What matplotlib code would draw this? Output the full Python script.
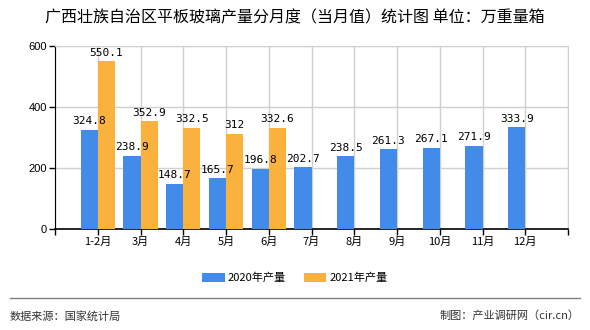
import numpy as np
import matplotlib.pyplot as plt

plt.rcParams['font.family'] = ['Noto Sans CJK SC', 'DejaVu Sans']

months = ['1-2月', '3月', '4月', '5月', '6月', '7月', '8月', '9月', '10月', '11月', '12月']
prod_2020 = [324.8, 238.9, 148.7, 165.7, 196.8, 202.7, 238.5, 261.3, 267.1, 271.9, 333.9]
prod_2021 = [550.1, 352.9, 332.5, 312, 332.6]
labels_2020 = ['324.8', '238.9', '148.7', '165.7', '196.8', '202.7', '238.5', '261.3', '267.1', '271.9', '333.9']
labels_2021 = ['550.1', '352.9', '332.5', '312', '332.6']

blue = '#428BEB'
orange = '#FBB13E'

fig = plt.figure(figsize=(5.9, 3.3), dpi=100)
ax = fig.add_axes([55 / 590, 1 - 229 / 330, 513 / 590, 183 / 330])

x = np.arange(1, len(months) + 1)
x21 = x[:len(prod_2021)]
w = 0.4
b1 = ax.bar(x - w / 2, prod_2020, w, color=blue, label='2020年产量', zorder=3)
b2 = ax.bar(x21 + w / 2, prod_2021, w, color=orange, label='2021年产量', zorder=3)

mono = ['DejaVu Sans Mono']
for xi, v, s in zip(x, prod_2020, labels_2020):
    ax.text(xi - w / 2, v + 12, s, ha='center', va='bottom', fontsize=8, family=mono, zorder=4)
for xi, v, s in zip(x21, prod_2021, labels_2021):
    ax.text(xi + w / 2, v + 12, s, ha='center', va='bottom', fontsize=8, family=mono, zorder=4)

ax.set_xlim(0, 12)
ax.set_ylim(0, 600)
ax.set_xticks(np.arange(0, 13))
ax.set_xticklabels([''] + months + [''], fontsize=8)
ax.set_yticks([0, 200, 400, 600])
ax.set_yticklabels(['0', '200', '400', '600'], fontsize=8, family=['Liberation Sans'])
ax.tick_params(axis='both', length=4, width=1, color='black', pad=2)
ax.grid(True, color='#D0D0D0', linewidth=1, zorder=0)
for side in ['top', 'right']:
    ax.spines[side].set_color('#D0D0D0')
ax.spines['left'].set_color('black')
ax.spines['bottom'].set_color('black')
ax.spines['bottom'].set_linewidth(1.2)

fig.text(0.5, 1 - 18 / 330, '广西壮族自治区平板玻璃产量分月度（当月值）统计图 单位：万重量箱',
         ha='center', va='center', fontsize=11.5)

fig.legend(handles=[b1, b2], loc='center', bbox_to_anchor=(0.5, 1 - 278 / 330),
           ncol=2, frameon=False, fontsize=8, handlelength=2.0, handleheight=0.8,
           columnspacing=1.6, handletextpad=0.3)

fig.add_artist(plt.Line2D([10 / 590, 580 / 590], [1 - 298 / 330, 1 - 298 / 330],
                          color='#808080', linewidth=1))
fig.text(10 / 590, 1 - 316 / 330, '数据来源：国家统计局', ha='left', va='center',
         fontsize=8, color='#333333')
fig.text(580 / 590, 1 - 316 / 330, '制图：产业调研网（cir.cn）', ha='right', va='center',
         fontsize=8, color='#333333')

fig.savefig('out.png', dpi=100)
